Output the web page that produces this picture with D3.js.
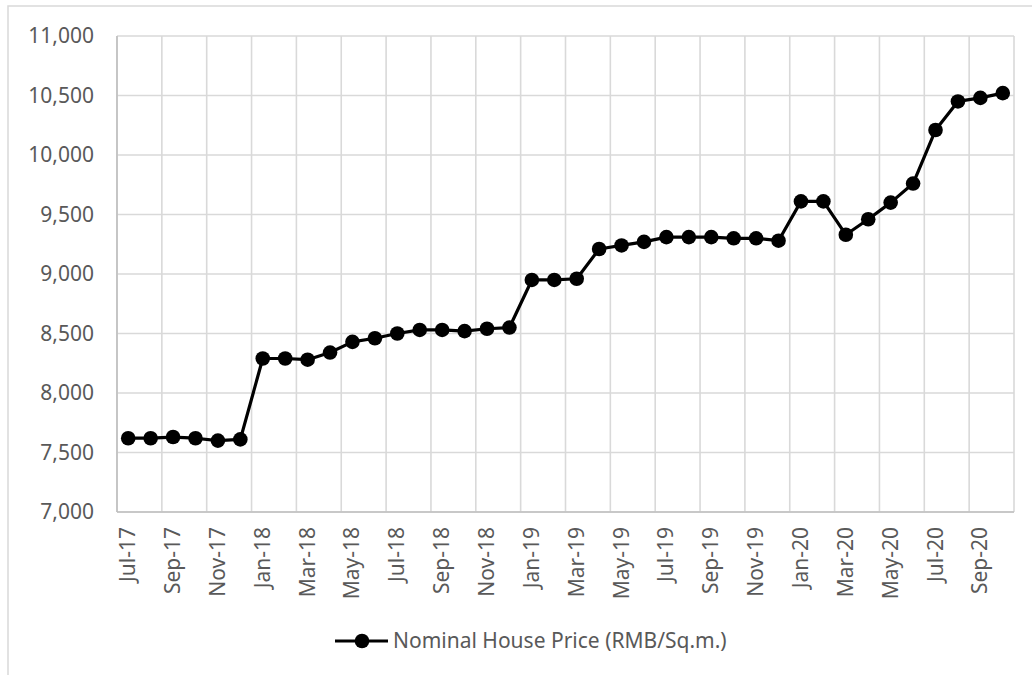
<!DOCTYPE html>
<html>
<head>
<meta charset="utf-8">
<script src="https://cdn.jsdelivr.net/npm/d3@7"></script>
<style>
  body { margin: 0; background: #fff; }
  text { font-family: "Noto Sans", sans-serif; fill: #595959; }
</style>
</head>
<body>
<script>
const width = 1032;
const height = 675;

// months on the category axis
const months = [
  "Jul-17", "Aug-17", "Sep-17", "Oct-17", "Nov-17", "Dec-17",
  "Jan-18", "Feb-18", "Mar-18", "Apr-18", "May-18", "Jun-18",
  "Jul-18", "Aug-18", "Sep-18", "Oct-18", "Nov-18", "Dec-18",
  "Jan-19", "Feb-19", "Mar-19", "Apr-19", "May-19", "Jun-19",
  "Jul-19", "Aug-19", "Sep-19", "Oct-19", "Nov-19", "Dec-19",
  "Jan-20", "Feb-20", "Mar-20", "Apr-20", "May-20", "Jun-20",
  "Jul-20", "Aug-20", "Sep-20", "Oct-20"
];

// nominal house price, RMB per square metre
const prices = [
  7620, 7620, 7630, 7620, 7600, 7610,
  8290, 8290, 8280, 8340, 8430, 8460,
  8500, 8530, 8530, 8520, 8540, 8550,
  8950, 8950, 8960, 9210, 9240, 9270,
  9310, 9310, 9310, 9300, 9300, 9280,
  9610, 9610, 9330, 9460, 9600, 9760,
  10210, 10450, 10480, 10520
];

const yTicks = [7000, 7500, 8000, 8500, 9000, 9500, 10000, 10500, 11000];
const seriesName = "Nominal House Price (RMB/Sq.m.)";

const margin = { top: 36, right: 18, bottom: 163, left: 117 };

const svg = d3.select("body")
    .append("svg")
    .attr("width", width)
    .attr("height", height);

// chart area border (only left and top show in the picture)
svg.append("rect")
    .attr("x", 8)
    .attr("y", 6)
    .attr("width", width + 20)
    .attr("height", height + 20)
    .attr("fill", "none")
    .attr("stroke", "#d9d9d9")
    .attr("stroke-width", 1.5);

const x = d3.scaleBand()
    .domain(months)
    .range([margin.left, width - margin.right]);

const y = d3.scaleLinear()
    .domain([7000, 11000])
    .range([height - margin.bottom, margin.top]);

// horizontal gridlines
svg.append("g")
    .selectAll("line")
    .data(yTicks)
    .enter()
    .append("line")
    .attr("x1", x.range()[0])
    .attr("x2", x.range()[1])
    .attr("y1", d => y(d))
    .attr("y2", d => y(d))
    .attr("stroke", "#d9d9d9")
    .attr("stroke-width", 1.6);

// vertical gridlines every two months
const vLines = months.filter((m, i) => i % 2 === 0).map(m => x(m)).concat([x.range()[1]]);
svg.append("g")
    .selectAll("line")
    .data(vLines)
    .enter()
    .append("line")
    .attr("x1", d => d)
    .attr("x2", d => d)
    .attr("y1", y.range()[0])
    .attr("y2", y.range()[1])
    .attr("stroke", "#d9d9d9")
    .attr("stroke-width", 1.6);

// axis lines
svg.append("line")
    .attr("x1", x.range()[0]).attr("x2", x.range()[1])
    .attr("y1", y(7000)).attr("y2", y(7000))
    .attr("stroke", "#bfbfbf").attr("stroke-width", 1.6);
svg.append("line")
    .attr("x1", x.range()[0]).attr("x2", x.range()[0])
    .attr("y1", y(7000)).attr("y2", y(11000))
    .attr("stroke", "#bfbfbf").attr("stroke-width", 1.6);

// y tick labels
svg.append("g")
    .selectAll("text")
    .data(yTicks)
    .enter()
    .append("text")
    .attr("x", margin.left - 23)
    .attr("y", d => y(d))
    .attr("dy", "0.35em")
    .attr("text-anchor", "end")
    .attr("font-size", "21px")
    .text(d => d3.format(",")(d));

// x tick labels, every other month, rotated
svg.append("g")
    .selectAll("text")
    .data(months.filter((m, i) => i % 2 === 0))
    .enter()
    .append("text")
    .attr("transform", d => `translate(${x(d) + x.bandwidth() / 2 + 7},${y(7000) + 15}) rotate(-90)`)
    .attr("text-anchor", "end")
    .attr("font-size", "21px")
    .text(d => d);

// the series
const line = d3.line()
    .x((d, i) => x(months[i]) + x.bandwidth() / 2)
    .y(d => y(d));

svg.append("path")
    .datum(prices)
    .attr("d", line)
    .attr("fill", "none")
    .attr("stroke", "#000")
    .attr("stroke-width", 3.2)
    .attr("stroke-linejoin", "round");

svg.append("g")
    .selectAll("circle")
    .data(prices)
    .enter()
    .append("circle")
    .attr("cx", (d, i) => x(months[i]) + x.bandwidth() / 2)
    .attr("cy", d => y(d))
    .attr("r", 7.3)
    .attr("fill", "#000");

// legend
const legend = svg.append("g").attr("transform", "translate(335,641)");
legend.append("line")
    .attr("x1", 0).attr("x2", 53)
    .attr("y1", 0).attr("y2", 0)
    .attr("stroke", "#000").attr("stroke-width", 3.2);
legend.append("circle")
    .attr("cx", 27).attr("cy", 0).attr("r", 7.3).attr("fill", "#000");
legend.append("text")
    .attr("x", 58)
    .attr("y", 0)
    .attr("dy", "0.35em")
    .attr("font-size", "21px")
    .text(seriesName);
</script>
</body>
</html>
